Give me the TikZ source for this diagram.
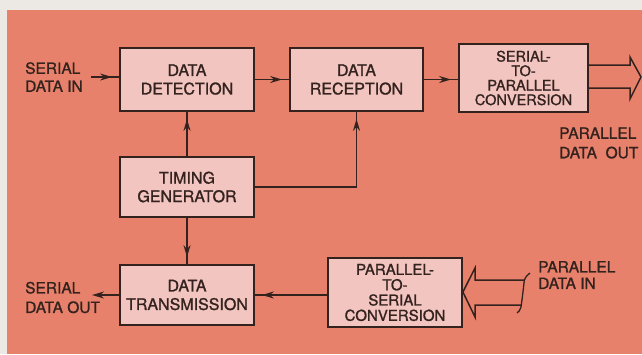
\documentclass[tikz,border=0pt]{standalone}
\usepackage{fontspec}
\setmainfont{TeX Gyre Heros}[FakeBold=1.2]
\usetikzlibrary{arrows.meta,decorations.markings}
\definecolor{pale}{HTML}{ECE8E4}
\definecolor{salmon}{HTML}{E8816B}
\definecolor{boxfill}{HTML}{F2C5C0}
\definecolor{ink}{HTML}{33221E}
\tikzset{
  blk/.style={draw=ink, fill=boxfill, line width=1.8pt, inner sep=0pt, align=center,
    text=ink, font=\fontsize{16}{18.5}\selectfont},
  lbl/.style={inner sep=0pt, align=left, text=ink, font=\fontsize{15.5}{18}\selectfont},
  conn/.style={draw=ink, line width=1.6pt},
  marr/.style={conn, postaction={decorate}, decoration={markings,
    mark=at position -7pt with {\arrow[ink]{Stealth[length=12pt,width=7pt]}}}},
  endarr/.style={conn, -{Stealth[length=12pt,width=7pt]}},
  hollow/.style={draw=ink, line width=1.5pt, line join=miter}
}
\begin{document}
\begin{tikzpicture}[x=1pt,y=-1pt]
\useasboundingbox (0,0) rectangle (642,354);
\fill[pale] (0,0) rectangle (642,354);
\fill[salmon] (7,10) rectangle (642,354);

% blocks
\node[blk, minimum width=134pt, minimum height=63pt] (dd) at (187,79.5) {DATA\\DETECTION};
\node[blk, minimum width=133pt, minimum height=63pt] (dr) at (356.5,79.5) {DATA\\RECEPTION};
\node[blk, minimum width=129pt, minimum height=68pt, font=\fontsize{14.5}{14.5}\selectfont] (stp) at (523.5,78) {SERIAL-\\TO-\\PARALLEL\\CONVERSION};
\node[blk, minimum width=134pt, minimum height=60pt] (tg) at (187,187) {TIMING\\GENERATOR};
\node[blk, minimum width=134pt, minimum height=60pt] (dt) at (187,295) {DATA\\TRANSMISSION};
\node[blk, minimum width=134pt, minimum height=69pt, font=\fontsize{15}{15.3}\selectfont] (pts) at (395,292.5) {PARALLEL-\\TO-\\SERIAL\\CONVERSION};

% labels
\node[lbl, anchor=west] (sdi) at (25,77) {SERIAL\\DATA IN};
\node[lbl, anchor=west, font=\fontsize{15.5}{19.5}\selectfont] (pdo) at (559,143) {PARALLEL\\DATA\ \ OUT};
\node[lbl, anchor=west, font=\fontsize{15.5}{19.5}\selectfont] (sdo) at (25,297.5) {SERIAL\\DATA OUT};
\node[lbl, anchor=west, font=\fontsize{15.5}{16.5}\selectfont] (pdi) at (538,275) {PARALLEL\\DATA IN};

% connectors
\coordinate (cin) at (91,77);
\coordinate (cout) at (92,295);
\draw[marr] (cin) -- (cin -| dd.west);
\draw[marr] (dd.east) -- (dr.west);
\draw[marr] (dr.east) -- (dr.east -| stp.west);
\draw[marr] (tg.north) -- (dd.south);
\draw[marr] (tg.east) -| (dr.south);
\draw[marr] (tg.south) -- (dt.north);
\draw[marr] (dt.east -| pts.west) -- (dt.east);
\draw[endarr] (dt.west) -- (cout);

% hollow arrow out of serial-to-parallel
\draw[hollow] (stp.east |- 0,65) -- (630,65) -- (630,57) -- (641,77) -- (630,99) -- (630,88) -- (stp.east |- 0,88);

% hollow arrow into parallel-to-serial
\draw[hollow] (524,280) -- (475,280) -- (475,268) -- (pts.east |- 0,292) -- (475,317) -- (475,305) -- (521,305);
\draw[hollow, line width=1.3pt] (530,273) .. controls (526,276) and (524,279) .. (524,283)
  .. controls (523,292) and (522,300) .. (521,307) .. controls (520,310) and (519,312) .. (517,313);
\end{tikzpicture}
\end{document}
